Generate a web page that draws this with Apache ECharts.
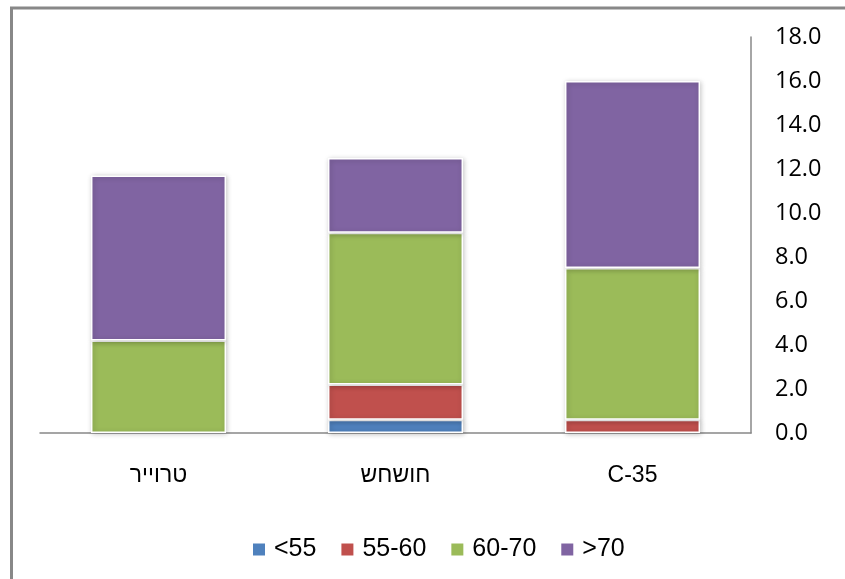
<!DOCTYPE html>
<html>
<head>
<meta charset="utf-8">
<script src="https://cdn.jsdelivr.net/npm/echarts@6/dist/echarts.min.js"></script>
<style>html,body{margin:0;padding:0;background:#fff;}#c{width:845px;height:579px;}</style>
</head>
<body>
<div id="c"></div>
<script>
const categories = ['טרוייר', 'חושחש', 'C-35'];
const seriesNames = ['<55', '55-60', '60-70', '>70'];
const lt55 = [0, 0.6, 0];
const s55to60 = [0, 1.6, 0.6];
const s60to70 = [4.2, 6.9, 6.9];
const gt70 = [7.5, 3.4, 8.5];
const colors = ['#4F81BD', '#C0504D', '#9BBB59', '#8064A2'];
const values = [lt55, s55to60, s60to70, gt70];

const chart = echarts.init(document.getElementById('c'), null, {renderer: 'canvas'});
const series = seriesNames.map((n, i) => ({
  name: n,
  type: 'bar',
  stack: 'total',
  barWidth: '57%',
  data: values[i].map(v => v === 0 ? null : v),
  itemStyle: {
    color: colors[i],
    borderColor: '#fff',
    borderWidth: 1.5,
    shadowBlur: 5,
    shadowColor: 'rgba(0,0,0,0.25)',
    shadowOffsetX: 1,
    shadowOffsetY: 1
  }
}));
chart.setOption({
  animation: false,
  backgroundColor: '#fff',
  graphic: [{
    type: 'rect',
    shape: {x: 11.5, y: 8, width: 900, height: 600},
    style: {fill: 'none', stroke: '#888', lineWidth: 3},
    silent: true
  }],
  grid: {left: 40, right: 94, top: 37, bottom: 146},
  legend: {
    data: seriesNames,
    top: 532,
    left: 246,
    itemWidth: 14,
    itemHeight: 14,
    itemGap: 23,
    icon: 'rect',
    textStyle: {fontFamily: 'Liberation Sans', fontSize: 25, color: '#000', padding: [0, 0, 0, 3]}
  },
  xAxis: {
    type: 'category',
    data: categories,
    axisLine: {lineStyle: {color: '#888', width: 1.5}},
    axisTick: {show: false},
    axisLabel: {fontFamily: 'Liberation Sans', fontSize: 23, color: '#000', margin: 31}
  },
  yAxis: {
    type: 'value',
    position: 'right',
    min: 0, max: 18, interval: 2,
    axisLine: {show: true, lineStyle: {color: '#888', width: 1.5}},
    axisTick: {show: false},
    splitLine: {show: false},
    axisLabel: {fontFamily: 'Open Sans', fontSize: 23.5, color: '#000', margin: 24,
      formatter: v => v.toFixed(1)}
  },
  series: series
});
</script>
</body>
</html>
